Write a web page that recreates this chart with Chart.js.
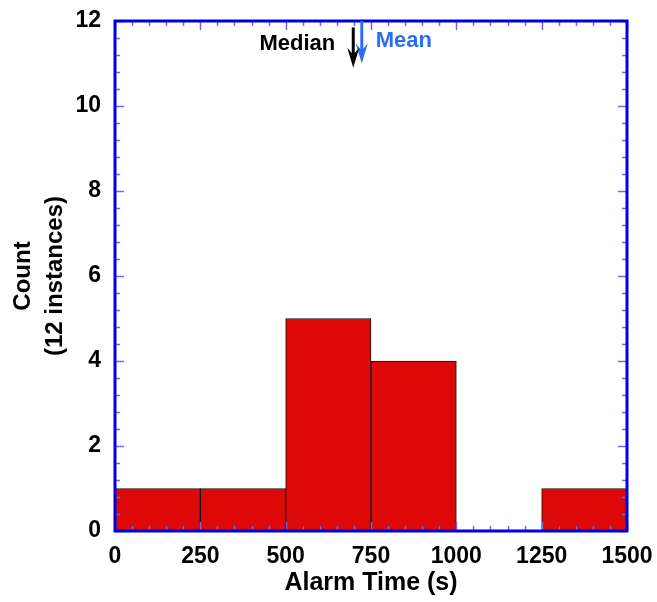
<!DOCTYPE html>
<html lang="en">
<head>
  <meta charset="UTF-8">
  <title>Alarm Time Histogram</title>
  <script src="https://cdn.jsdelivr.net/npm/chart.js@4.4.0/dist/chart.umd.min.js"></script>
  <style>
    html, body { margin: 0; padding: 0; background: #fff; }
    #wrap { width: 657px; height: 602px; }
  </style>
</head>
<body>
  <div id="wrap"><canvas id="histChart" width="657" height="602"></canvas></div>

  <script>
    // Histogram data (bin width 250 s)
    const binStarts = [0, 250, 500, 750, 1000, 1250];
    const binWidth = 250;
    const counts = [1, 1, 5, 4, 0, 1];
    const xTickValues = [0, 250, 500, 750, 1000, 1250, 1500];
    const yTickValues = [0, 2, 4, 6, 8, 10, 12];
    const medianValue = 698;
    const meanValue = 723;

    const FONT = '"Liberation Sans", Arial, sans-serif';
    const AXIS_BLUE = '#0000dd';
    const TICK_BLUE = '#6a6aee';
    const MEAN_BLUE = '#2b6ff0';

    // inward ticks on all four sides, plus the median / mean markers
    const framePlugin = {
      id: 'frame',
      afterDatasetsDraw(chart) {
        const { ctx, chartArea: a, scales: { x, y } } = chart;
        ctx.save();
        ctx.lineWidth = 1.5;
        ctx.strokeStyle = TICK_BLUE;
        ctx.beginPath();
        for (let v = 0; v <= 1500; v += 50) {
          const px = Math.round(x.getPixelForValue(v)) + 0.5;
          const len = v % 250 === 0 ? 9 : 5;
          ctx.moveTo(px, a.bottom); ctx.lineTo(px, a.bottom - len);
          ctx.moveTo(px, a.top); ctx.lineTo(px, a.top + len);
        }
        for (let i = 0; i <= 30; i++) {
          const v = i * 0.4;
          const py = Math.round(y.getPixelForValue(v)) + 0.5;
          const len = i % 5 === 0 ? 9 : 5;
          ctx.moveTo(a.left, py); ctx.lineTo(a.left + len, py);
          ctx.moveTo(a.right, py); ctx.lineTo(a.right - len, py);
        }
        ctx.stroke();

        // frame
        ctx.lineWidth = 3;
        ctx.strokeStyle = AXIS_BLUE;
        ctx.strokeRect(a.left, a.top, a.right - a.left, a.bottom - a.top);

        // markers
        const drawArrow = (val, y0, y1, color) => {
          const px = x.getPixelForValue(val);
          const top = y.getPixelForValue(y0);
          const tip = y.getPixelForValue(y1);
          ctx.strokeStyle = color;
          ctx.fillStyle = color;
          ctx.lineWidth = 3;
          ctx.beginPath();
          ctx.moveTo(px, top);
          ctx.lineTo(px, tip - 8);
          ctx.stroke();
          ctx.beginPath();
          ctx.moveTo(px, tip);
          ctx.lineTo(px - 6, tip - 20);
          ctx.lineTo(px, tip - 13);
          ctx.lineTo(px + 6, tip - 20);
          ctx.closePath();
          ctx.fill();
        };
        drawArrow(meanValue, 12, 11.0, MEAN_BLUE);
        drawArrow(medianValue, 11.85, 10.9, '#000000');

        ctx.font = 'bold 22px ' + FONT;
        ctx.textBaseline = 'middle';
        ctx.fillStyle = '#000';
        ctx.textAlign = 'right';
        ctx.fillText('Median', x.getPixelForValue(medianValue) - 18, y.getPixelForValue(11.47));
        ctx.fillStyle = MEAN_BLUE;
        ctx.textAlign = 'left';
        ctx.fillText('Mean', x.getPixelForValue(meanValue) + 14, y.getPixelForValue(11.52));
        ctx.restore();
      }
    };

    const barData = binStarts.map((s, i) => ({ x: s + binWidth / 2, y: counts[i] }));

    new Chart(document.getElementById('histChart').getContext('2d'), {
      type: 'bar',
      data: {
        datasets: [{
          data: barData,
          backgroundColor: '#dd0808',
          borderColor: '#111',
          borderWidth: 1,
          borderSkipped: false,
          barPercentage: 1,
          categoryPercentage: 1
        }]
      },
      options: {
        responsive: false,
        animation: false,
        events: [],
        layout: { padding: { top: 21, right: 30, left: 0, bottom: 0 } },
        plugins: { legend: { display: false }, tooltip: { enabled: false } },
        scales: {
          x: {
            type: 'linear',
            min: 0,
            max: 1500,
            offset: false,
            afterBuildTicks(scale) { scale.ticks = xTickValues.map(v => ({ value: v })); },
            afterFit(scale) {
              scale.height = 71;
              scale.paddingLeft = 0;
              scale.paddingRight = 0;
            },
            grid: { display: false, drawTicks: false },
            border: { display: false },
            ticks: {
              color: '#000',
              padding: 12,
              maxRotation: 0,
              autoSkip: false,
              callback: v => String(v),
              font: { family: FONT, size: 23, weight: 'bold' }
            },
            title: {
              display: true,
              text: 'Alarm Time (s)',
              color: '#000',
              padding: { top: 0, bottom: 4 },
              font: { family: FONT, size: 25, weight: 'bold' }
            }
          },
          y: {
            min: 0,
            max: 12,
            afterBuildTicks(scale) { scale.ticks = yTickValues.map(v => ({ value: v })); },
            afterFit(scale) {
              scale.width = 115;
              scale.paddingTop = 0;
              scale.paddingBottom = 0;
            },
            grid: { display: false, drawTicks: false },
            border: { display: false },
            ticks: { color: '#000', padding: 14, font: { family: FONT, size: 23, weight: 'bold' } },
            title: {
              display: true,
              text: ['Count', '(12 instances)'],
              color: '#000',
              padding: { top: 8, bottom: 0 },
              font: { family: FONT, size: 24, weight: 'bold', lineHeight: 1.31 }
            }
          }
        }
      },
      plugins: [framePlugin]
    });
  </script>
</body>
</html>
